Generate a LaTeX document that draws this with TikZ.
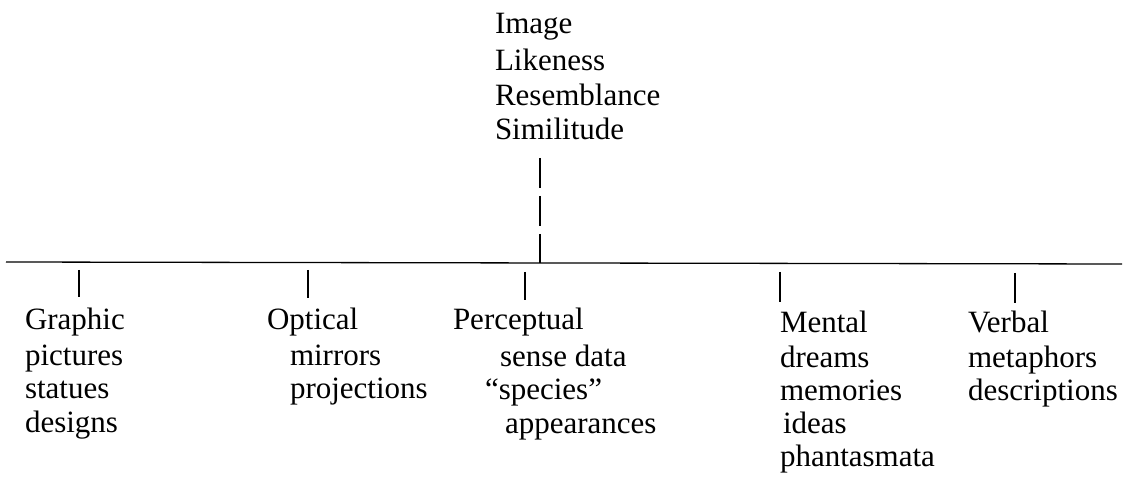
\documentclass[tikz,border=0pt]{standalone}
\usepackage{fontspec}
\setmainfont{Liberation Serif}
\begin{document}
\begin{tikzpicture}[x=1pt,y=-1pt,
  every node/.style={inner sep=0pt, outer sep=0pt, anchor=base west, font=\fontsize{31}{35}\selectfont},
  rule/.style={line width=1.3pt, black},
  tick/.style={line width=1.2pt, black}]
\useasboundingbox (0,0) rectangle (1127,486);
% top group
\node (image) at (495,34) {Image};
\node (likeness) at (495,71) {Likeness};
\node (resemb) at (495,106) {Resemblance};
\node (simil) at (495,140) {Similitude};
\coordinate (vtop) at (540,158);
\coordinate (vbot) at (540,263);
\draw[rule, dash pattern=on 30pt off 8pt] (vtop) -- (vbot);
% main bar
\coordinate (barL) at (6,262);
\coordinate (barR) at (1122,264);
\draw[rule] (barL) -- (barR);
% ticks
\coordinate (t1a) at (79,270);  \coordinate (t1b) at (79,297);
\coordinate (t2a) at (308,270); \coordinate (t2b) at (308,298);
\coordinate (t3a) at (525,272); \coordinate (t3b) at (525,300);
\coordinate (t4a) at (780,272); \coordinate (t4b) at (780,302);
\coordinate (t5a) at (1015,273); \coordinate (t5b) at (1015,303);
\draw[tick] (t1a) -- (t1b);
\draw[tick] (t2a) -- (t2b);
\draw[tick] (t3a) -- (t3b);
\draw[tick] (t4a) -- (t4b);
\draw[tick] (t5a) -- (t5b);
% Graphic
\node (graphic) at (25,330) {Graphic};
\node (pictures) at (25,365) {pictures};
\node (statues) at (25,398) {statues};
\node (designs) at (25,432) {designs};
% Optical
\node (optical) at (267,330) {Optical};
\node (mirrors) at (290,365) {mirrors};
\node (projections) at (290,398) {projections};
% Perceptual
\node (perceptual) at (453,330) {Perceptual};
\node (sensedata) at (500,366) {sense data};
\node (species) at (485,399) {``species''};
\node (appearances) at (505,433) {appearances};
% Mental
\node (mental) at (780,332) {Mental};
\node (dreams) at (780,367) {dreams};
\node (memories) at (780,400) {memories};
\node (ideas) at (783,433) {ideas};
\node (phantasmata) at (780,466) {phantasmata};
% Verbal
\node (verbal) at (968,332) {Verbal};
\node (metaphors) at (968,367) {metaphors};
\node (descriptions) at (968,400) {descriptions};
\end{tikzpicture}
\end{document}
